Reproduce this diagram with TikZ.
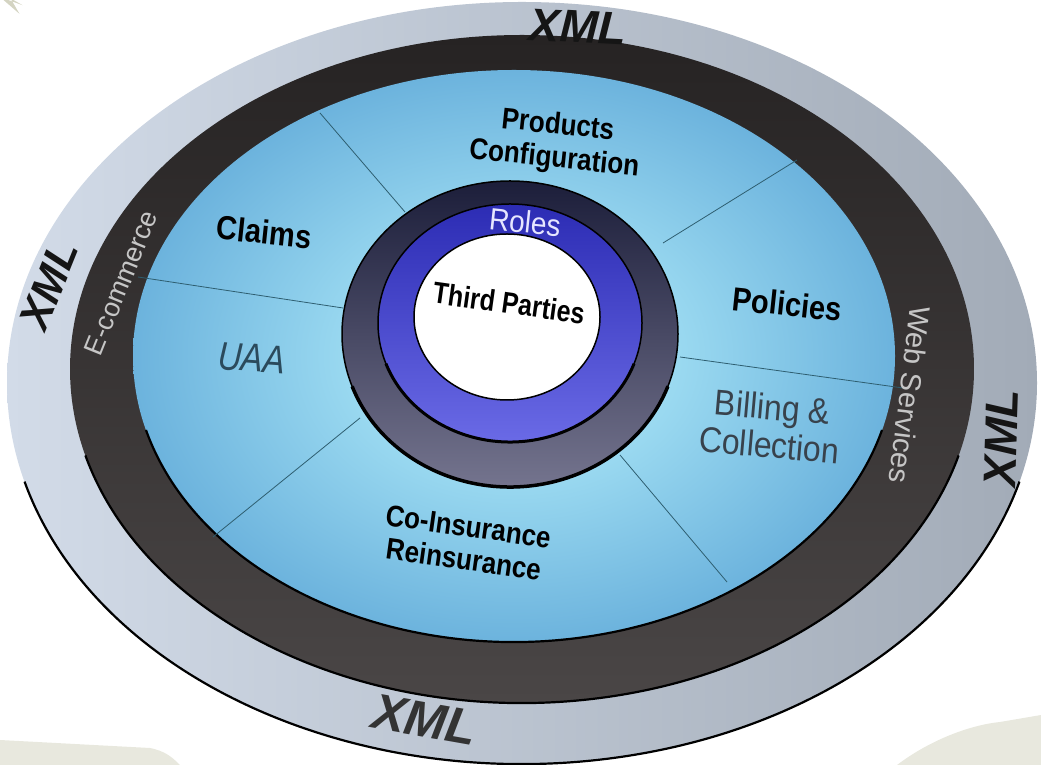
\documentclass[tikz,border=0pt]{standalone}
\usepackage{fontspec}
\setmainfont{Liberation Sans}
\definecolor{beige}{HTML}{E8E8DE}
\definecolor{stargray}{HTML}{D4D4C2}
\definecolor{outL}{HTML}{D2DBE8}
\definecolor{outR}{HTML}{A2ABB7}
\definecolor{dkT}{HTML}{262323}
\definecolor{dkB}{HTML}{4A4646}
\definecolor{blI}{HTML}{BDF6FF}
\definecolor{blO}{HTML}{6CB3DD}
\definecolor{cdT}{HTML}{1C1E3A}
\definecolor{cdB}{HTML}{74748E}
\definecolor{brT}{HTML}{2C2CB4}
\definecolor{brB}{HTML}{6A6AE6}
\definecolor{divc}{HTML}{2E5E70}
\definecolor{xmlc}{HTML}{151515}
\definecolor{ringtxt}{HTML}{C6C6C6}
\definecolor{uaac}{HTML}{2B4A5C}
\definecolor{billc}{HTML}{38424C}
\definecolor{rolesc}{HTML}{E6E6FF}
\begin{document}
\begin{tikzpicture}[x=1pt,y=1pt,
  seglbl/.style={font=\bfseries\fontsize{27}{32}\selectfont, text=black, align=center, inner sep=0pt},
  xmllbl/.style={font=\bfseries\itshape\fontsize{46}{46}\selectfont, text=xmlc, inner sep=0pt},
  ringlbl/.style={font=\fontsize{27}{27}\selectfont, text=ringtxt, inner sep=0pt},
  divider/.style={draw=divc, line width=0.8pt},
  rim/.style={draw=black, line width=2.2pt},
]
\useasboundingbox (0,0) rectangle (1041,765);
\clip (0,0) rectangle (1041,765);
% background decoration
\fill[beige] (0,25) -- (150,17) .. controls (165,14) and (172,8) .. (180,0) -- (0,0) -- cycle;
\fill[beige] (897,0) .. controls (930,25) and (970,40) .. (1000,43) -- (1041,50) -- (1041,0) -- cycle;
\fill[stargray] (0,768) -- ++(-20:24pt) -- ++(150:14pt) -- ++(-60:18pt) -- cycle;
% outer grey ring
\shade[left color=outL, right color=outR] (522,382) ellipse [x radius=515pt, y radius=381pt];
\draw[rim] (522,382) ++(195:515pt and 381pt) arc[start angle=195, end angle=345, x radius=515pt, y radius=381pt];
% dark ring
\shade[top color=dkT, bottom color=dkB] (522,396) ellipse [x radius=452pt, y radius=334pt];
\draw[rim] (522,396) ++(195:452pt and 334pt) arc[start angle=195, end angle=345, x radius=452pt, y radius=334pt];
% light blue field
\shade[inner color=blI, outer color=blO] (514,409) ellipse [x radius=381pt, y radius=286pt];
\draw[rim] (514,409) ++(195:381pt and 286pt) arc[start angle=195, end angle=345, x radius=381pt, y radius=286pt];
% dividers
\coordinate (d1a) at (320,652); \coordinate (d1b) at (405,553);
\coordinate (d2a) at (663,522); \coordinate (d2b) at (797,605);
\coordinate (d3a) at (138,488); \coordinate (d3b) at (343,457);
\coordinate (d4a) at (680,408); \coordinate (d4b) at (903,377);
\coordinate (d5a) at (360,347); \coordinate (d5b) at (213,228);
\coordinate (d6a) at (620,310); \coordinate (d6b) at (727,183);
\draw[divider] (d1a) -- (d1b);
\draw[divider] (d2a) -- (d2b);
\draw[divider] (d3a) -- (d3b);
\draw[divider] (d4a) -- (d4b);
\draw[divider] (d5a) -- (d5b);
\draw[divider] (d6a) -- (d6b);
% central discs
\shadedraw[top color=cdT, bottom color=cdB, draw=black, line width=1.5pt] (510,431) ellipse [x radius=168pt, y radius=153pt];
\draw[black, line width=3.5pt] (510,431) ++(200:168pt and 153pt) arc[start angle=200, end angle=340, x radius=168pt, y radius=153pt];
\shadedraw[top color=brT, bottom color=brB, draw=black, line width=1.5pt] (510,442) ellipse [x radius=132pt, y radius=119pt];
\draw[black, line width=3pt] (510,442) ++(200:132pt and 119pt) arc[start angle=200, end angle=340, x radius=132pt, y radius=119pt];
\filldraw[fill=white, draw=black, line width=1.5pt] (507,448) ellipse [x radius=93pt, y radius=83pt];
% segment labels
\node[seglbl, font=\bfseries\fontsize{26}{29}\selectfont, rotate=-6, yscale=1.15] (prod) at (556,622) {Products\\Configuration};
\node[seglbl, font=\bfseries\fontsize{29}{29}\selectfont, rotate=-6, yscale=1.15] (claims) at (264,533) {Claims};
\node[seglbl, font=\bfseries\fontsize{29}{29}\selectfont, rotate=-6, yscale=1.15] (pol) at (787,461) {Policies};
\node[font=\itshape\fontsize{33}{33}\selectfont, text=uaac, inner sep=0pt, rotate=-4, yscale=1.2] (uaa) at (252,407) {UAA};
\node[font=\fontsize{32}{34}\selectfont, text=billc, align=center, inner sep=0pt, rotate=-5, yscale=1.12] (bill) at (771,339) {Billing \&\\Collection};
\node[seglbl, font=\bfseries\fontsize{26}{29}\selectfont, rotate=-8, yscale=1.15] (coins) at (466,222) {Co-Insurance\\Reinsurance};
\node[font=\fontsize{28}{28}\selectfont, text=rolesc, inner sep=0pt, rotate=-6, yscale=1.1] (roles) at (525,543) {Roles};
\node[seglbl, font=\bfseries\fontsize{25}{25}\selectfont, rotate=-8, yscale=1.2] (third) at (509,462) {Third Parties};
% ring labels
\node[ringlbl, rotate=68] (ecom) at (121,482) {E-commerce};
\node[ringlbl, font=\fontsize{29}{29}\selectfont, rotate=-97] (web) at (910,370) {Web Services};
% XML labels
\node[xmllbl, rotate=-3] (xmlt) at (578,738) {XML};
\node[xmllbl, font=\bfseries\itshape\fontsize{43}{43}\selectfont, rotate=68] (xmll) at (49,480) {XML};
\node[xmllbl, font=\bfseries\itshape\fontsize{46}{46}\selectfont, rotate=88] (xmlr) at (1001,327) {XML};
\node[xmllbl, font=\bfseries\itshape\fontsize{50}{50}\selectfont, text=black!80, rotate=-10] (xmlb) at (425,45) {XML};
\end{tikzpicture}
\end{document}
